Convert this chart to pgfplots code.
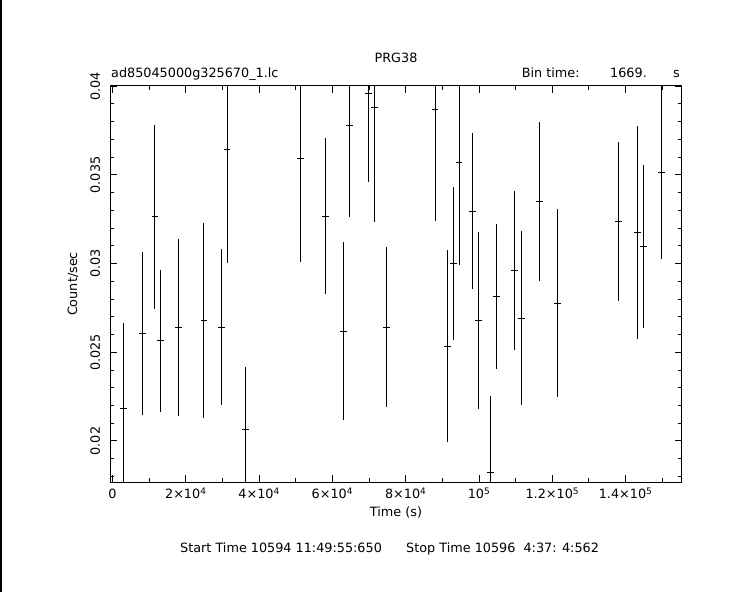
\documentclass[border=0pt]{standalone}
\usepackage{fontspec}
\setmainfont{DejaVu Sans}
\usepackage{pgfplots}
\usepackage{pgfplotstable}
\pgfplotsset{compat=1.18}
\pgfplotstableread{
x y ex ey
3000 0.02184 900 0.00483
8180 0.02607 900 0.0046
11560 0.03263 900 0.0052
13090 0.02564 900 0.0040
18000 0.02641 900 0.0050
24920 0.02680 900 0.0055
29720 0.02641 900 0.0044
31280 0.03646 900 0.0064
36270 0.02066 900 0.0035
51270 0.03590 900 0.0058
58190 0.03268 900 0.0044
63000 0.02620 900 0.0050
64640 0.03781 900 0.0052
69920 0.03962 900 0.0050
71450 0.03883 900 0.0065
74720 0.02641 900 0.0045
88000 0.03870 900 0.0063
91460 0.02534 900 0.0054
93000 0.03000 900 0.0043
94550 0.03571 900 0.0058
98180 0.03295 900 0.0044
99810 0.02680 900 0.0050
103080 0.01823 900 0.0043
104720 0.02816 900 0.0041
109630 0.02962 900 0.0045
111640 0.02692 900 0.0049
116550 0.03351 900 0.0045
121350 0.02778 900 0.0053
138000 0.03238 900 0.0045
143170 0.03176 900 0.0060
144810 0.03097 900 0.0046
149820 0.03515 900 0.0049
}\lcdata
\begin{document}
\fontsize{12.8bp}{15bp}\selectfont
\begin{tikzpicture}
\useasboundingbox (0bp,0bp) rectangle (743bp,607bp);
\draw[line width=1.5bp] (0.75bp,607bp) -- (0.75bp,15bp);
\begin{axis}[
  at={(110.3bp,124.7bp)}, anchor=south west,
  scale only axis, width=571.4bp, height=396.6bp,
  xmin=-600, xmax=155300, ymin=0.01767, ymax=0.04003,
  axis line style={line width=1bp},
  tick style={line width=1bp, black},
  tick align=inside,
  major tick length=7bp, minor tick length=4bp,
  xtick={0,20000,40000,60000,80000,100000,120000,140000},
  xticklabels={0, 2×10\textsuperscript{4}, 4×10\textsuperscript{4}, 6×10\textsuperscript{4}, 8×10\textsuperscript{4}, 10\textsuperscript{5}, 1.2×10\textsuperscript{5}, 1.4×10\textsuperscript{5}},
  minor xtick={10000,30000,50000,70000,90000,110000,130000,150000},
  ytick={0.02,0.025,0.03,0.035,0.04},
  yticklabels={0.02,0.025,0.03,0.035,0.04},
  minor ytick={0.018,0.019,0.021,0.022,0.023,0.024,0.026,0.027,0.028,0.029,0.031,0.032,0.033,0.034,0.036,0.037,0.038,0.039},
  xticklabel style={anchor=base, inner sep=0pt},
  xticklabel shift=16.2bp,
  yticklabel style={rotate=90, anchor=south, inner sep=0pt},
  yticklabel shift=10bp,
  scaled ticks=false,
]
\addplot[draw=none, mark=none,
  error bars/.cd, x dir=both, x explicit, y dir=both, y explicit,
  error mark=none, error bar style={draw=black, line width=0.9bp, solid, line cap=butt}]
  table[x=x, y=y, x error=ex, y error=ey] {\lcdata};
\end{axis}
\node[anchor=base] at (396bp,544.7bp) {PRG38};
\node[anchor=base west, inner sep=0pt] at (111bp,529.5bp) {ad85045000g325670\_1.lc};
\node[anchor=base west, inner sep=0pt] at (521.7bp,529.5bp) {Bin time:};
\node[anchor=base west, inner sep=0pt] at (610bp,529.5bp) {1669.};
\node[anchor=base east, inner sep=0pt] at (680bp,529.5bp) {s};
\node[anchor=base, inner sep=0pt] at (396bp,90.3bp) {Time (s)};
\node[rotate=90, anchor=base, inner sep=0pt] at (77bp,323bp) {Count/sec};
\node[anchor=base west, inner sep=0pt] at (180bp,54.3bp) {Start Time 10594 11:49:55:650};
\node[anchor=base west, inner sep=0pt] at (406bp,54.3bp) {Stop Time 10596\ \ 4:37: 4:562};
\end{tikzpicture}
\end{document}
